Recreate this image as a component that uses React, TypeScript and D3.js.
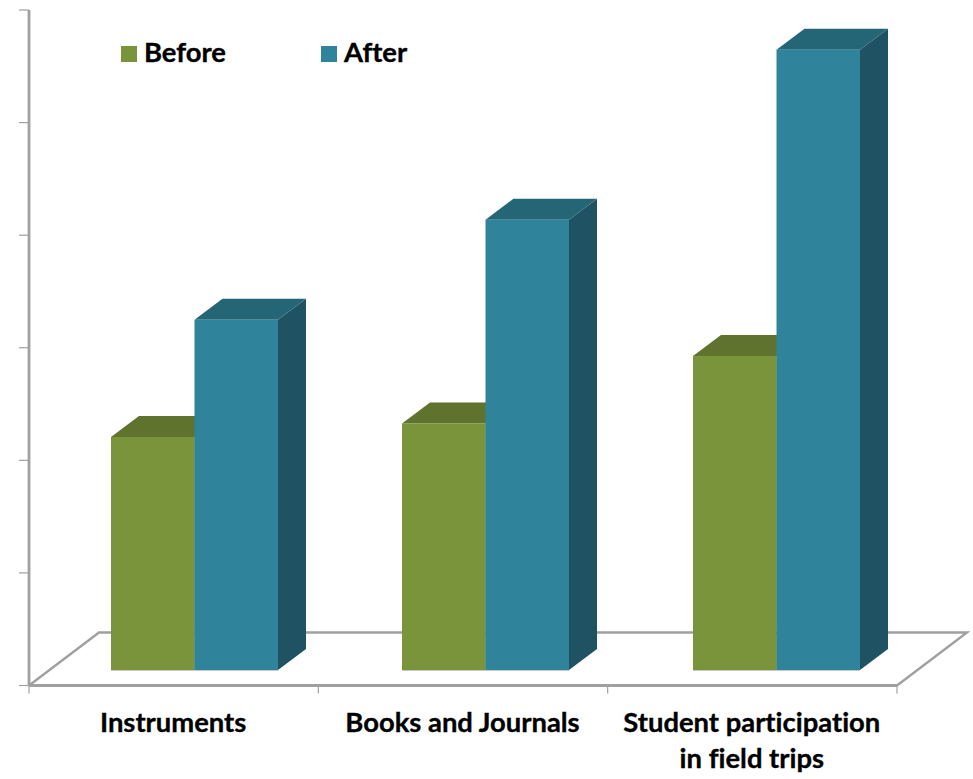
import React from "react";
import * as d3 from "d3";

const categories = ["Instruments", "Books and Journals", "Student participation\nin field trips"];
const before = [2.07, 2.19, 2.79];
const after = [3.11, 4.0, 5.51];
const seriesNames = ["Before", "After"];
const yTicks = [0, 1, 2, 3, 4, 5, 6];

const W = 973, H = 779;
const left = 29, right = 897, top = 10, bottom = 685.5;
const depthX = 28, depthY = 21, floorX = 70, floorY = 53, lift = 15.5;
const axisColor = "#a0a0a0";
const faces = [
  { front: "#7a943c", top: "#5f722e", side: "#55662a" },
  { front: "#2f849c", top: "#246576", side: "#1f5364" },
];

export default function App() {
  const y = d3.scaleLinear().domain([0, 6]).range([bottom, top]);
  const x0 = d3.scaleBand<number>().domain(d3.range(categories.length)).range([left, right]);
  const xBars = d3.scaleLinear().domain([0, categories.length - 1]).range([111, 693]);
  const barW = 83.5;
  const baseY = bottom - lift;
  const h = (v: number) => y(0) - y(v);
  const series = [before, after];
  return (
    <svg width={W} height={H} style={{ position: "absolute", left: 0, top: 0, background: "#fff", fontVariantLigatures: "none" }} fontFamily="Lato, Carlito, sans-serif">
      <path d={`M${left},${bottom} L${left + floorX},${bottom - floorY} L${right + floorX},${bottom - floorY} L${right},${bottom}`} fill="none" stroke={axisColor} strokeWidth={2.4} />
      <line x1={left} x2={left} y1={top} y2={bottom} stroke={axisColor} strokeWidth={2.8} />
      <line x1={left} x2={right} y1={bottom} y2={bottom} stroke={axisColor} strokeWidth={2.8} />
      {yTicks.map(t => (
        <line key={t} x1={left - 10} x2={left} y1={y(t)} y2={y(t)} stroke={axisColor} strokeWidth={1.2} />
      ))}
      {d3.range(categories.length + 1).map(i => {
        const px = i < categories.length ? x0(i)! : right;
        return <line key={i} x1={px} x2={px} y1={bottom} y2={bottom + 8} stroke={axisColor} strokeWidth={1.2} />;
      })}
      {categories.map((_, i) =>
        series.map((vals, s) => {
          const bx = xBars(i) + s * barW;
          const bt = baseY - h(vals[i]);
          const f = faces[s];
          return (
            <g key={`${i}-${s}`}>
              <path d={`M${bx + barW},${bt} L${bx + barW + depthX},${bt - depthY} L${bx + barW + depthX},${baseY - depthY} L${bx + barW},${baseY} Z`} fill={f.side} />
              <path d={`M${bx},${bt} L${bx + depthX},${bt - depthY} L${bx + barW + depthX},${bt - depthY} L${bx + barW},${bt} Z`} fill={f.top} />
              <rect x={bx} y={bt} width={barW} height={baseY - bt} fill={f.front} />
            </g>
          );
        })
      )}
      {categories.map((_, i) => (
        <line key={i} x1={xBars(i)} x2={xBars(i) + 2 * barW} y1={baseY + 0.5} y2={baseY + 0.5} stroke="#c8c8c8" strokeWidth={1} />
      ))}
      {categories.map((c, i) => {
        const cx = x0(i)! + x0.bandwidth() / 2 - 0.5;
        return c.split("\n").map((line, j) => (
          <text key={j} x={cx} y={732 + j * 36} textAnchor="middle" fontSize={27.4} fontWeight={700} stroke="#000" strokeWidth={0.35} fill="#000">{line}</text>
        ));
      })}
      {seriesNames.map((n, i) => (
        <g key={n}>
          <rect x={121 + i * 200} y={46} width={16} height={16} fill={faces[i].front} />
          <text x={144 + i * 200} y={62} fontSize={27.4} fontWeight={700} stroke="#000" strokeWidth={0.35} fill="#000">{n}</text>
        </g>
      ))}
    </svg>
  );
}
